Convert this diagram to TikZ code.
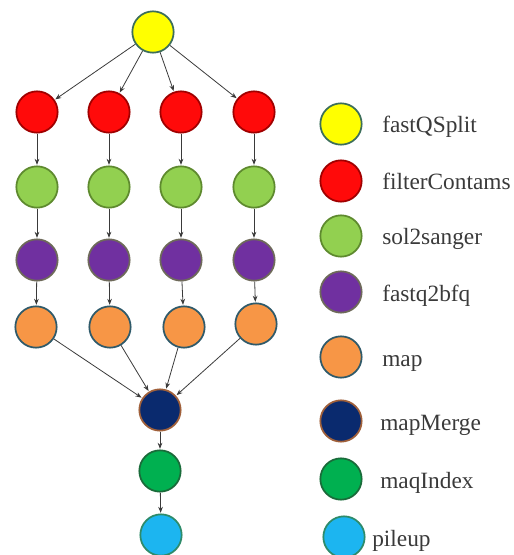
\documentclass[tikz,border=0pt]{standalone}
\usepackage{fontspec}
\setmainfont{Liberation Serif}
\usetikzlibrary{arrows.meta}

\definecolor{cYellow}{HTML}{FFFF00}\definecolor{bYellow}{HTML}{3C6E5A}
\definecolor{cRed}{HTML}{FF0A0A}\definecolor{bRed}{HTML}{A00000}
\definecolor{cLime}{HTML}{92D050}\definecolor{bLime}{HTML}{5E8A2E}
\definecolor{cPurple}{HTML}{7030A0}\definecolor{bPurple}{HTML}{6E6A5A}
\definecolor{cOrange}{HTML}{F79646}\definecolor{bOrange}{HTML}{2F5A6A}
\definecolor{cNavy}{HTML}{0A2A6E}\definecolor{bNavy}{HTML}{A0603A}
\definecolor{cGreen}{HTML}{00B050}\definecolor{bGreen}{HTML}{1A6B3A}
\definecolor{cCyan}{HTML}{1CB5F0}\definecolor{bCyan}{HTML}{2E8B6A}
\definecolor{edgegray}{HTML}{3A3A3A}
\definecolor{labelgray}{HTML}{3A3A3A}

\tikzset{
  job/.style n args={2}{circle, minimum size=31pt, inner sep=0pt,
    fill=#1, draw=#2, line width=1.3pt},
  yellowjob/.style={job={cYellow}{bYellow}},
  redjob/.style={job={cRed}{bRed}},
  limejob/.style={job={cLime}{bLime}},
  purplejob/.style={job={cPurple}{bPurple}},
  orangejob/.style={job={cOrange}{bOrange}},
  navyjob/.style={job={cNavy}{bNavy}},
  greenjob/.style={job={cGreen}{bGreen}},
  cyanjob/.style={job={cCyan}{bCyan}},
  flow/.style={draw=edgegray, line width=0.6pt,
    -{Stealth[length=4.5pt,width=3.5pt]}, shorten >=0.5pt},
  legendtext/.style={anchor=base west, inner sep=0pt, text=labelgray,
    font=\fontsize{17.5}{20}\selectfont}
}

\begin{document}
\begin{tikzpicture}[x=0.75pt, y=-0.75pt]
  \useasboundingbox (0,0) rectangle (513,555);

  % workflow graph
  \node[yellowjob] (split) at (153,32) {};
  \foreach \i/\x/\xo/\yo in {1/37/36/327, 2/109/110/327, 3/181/184/327, 4/254/256/324} {
    \node[redjob]    (filt\i) at (\x,112) {};
    \node[limejob]   (sol\i)  at (\x,187) {};
    \node[purplejob] (bfq\i)  at (\x,260) {};
    \node[orangejob] (map\i)  at (\xo,\yo) {};
  }
  \node[navyjob]  (merge) at (160,410) {};
  \node[greenjob] (index) at (160,471) {};
  \node[cyanjob]  (pile)  at (161,535) {};

  \foreach \i in {1,...,4} {
    \draw[flow] (split) -- (filt\i);
    \draw[flow] (filt\i) -- (sol\i);
    \draw[flow] (sol\i) -- (bfq\i);
    \draw[flow] (bfq\i) -- (map\i);
    \draw[flow] (map\i) -- (merge);
  }
  \draw[flow] (merge) -- (index);
  \draw[flow] (index) -- (pile);

  % legend
  \node[yellowjob] (lg1) at (341,124) {};
  \node[redjob]    (lg2) at (341,181) {};
  \node[limejob]   (lg3) at (341,236) {};
  \node[purplejob] (lg4) at (341,292) {};
  \node[orangejob] (lg5) at (341,357) {};
  \node[navyjob]   (lg6) at (341,421) {};
  \node[greenjob]  (lg7) at (341,479) {};
  \node[cyanjob]   (lg8) at (344,537) {};

  \node[legendtext] (t1) at (382,133) {fastQSplit};
  \node[legendtext] (t2) at (382,190) {filterContams};
  \node[legendtext] (t3) at (382,245) {sol2sanger};
  \node[legendtext] (t4) at (382,301) {fastq2bfq};
  \node[legendtext] (t5) at (382,366) {map};
  \node[legendtext] (t6) at (380,430) {mapMerge};
  \node[legendtext] (t7) at (380,488) {maqIndex};
  \node[legendtext] (t8) at (372,546) {pileup};
\end{tikzpicture}
\end{document}
